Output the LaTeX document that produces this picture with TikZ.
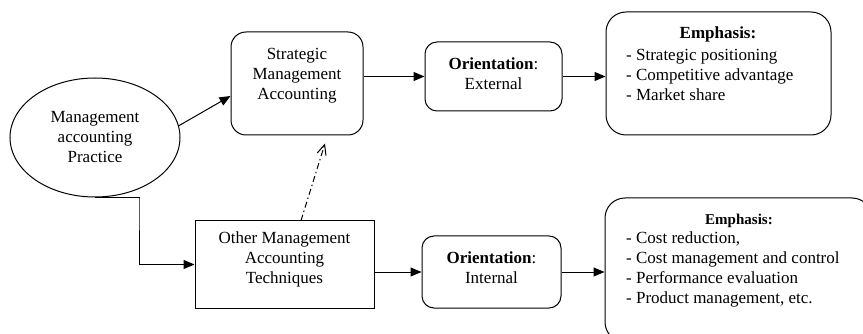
\documentclass[tikz,border=0pt]{standalone}
\usepackage{fontspec}
\setmainfont{Liberation Serif}
\usetikzlibrary{arrows.meta,calc,shapes.geometric}
\begin{document}
\begin{tikzpicture}[x=1pt,y=-1pt,
  every node/.style={font=\fontsize{17}{20}\selectfont},
  box/.style={draw,line width=1pt,inner sep=0pt},
  rbox/.style={box,rounded corners=#1},
  txt/.style={align=center,inner sep=0pt},
  lst/.style={align=left,inner sep=0pt,anchor=west},
  arr/.style={line width=1pt,-{Triangle[length=11pt,width=9pt]}},
  dasharr/.style={line width=1pt,dash pattern=on 6pt off 3pt on 1.5pt off 3pt,-{Straight Barb[length=10pt,width=9pt]}}
]
\clip (0,0) rectangle (863,334);
\fill[white] (0,0) rectangle (863,334);
% ellipse
\node[draw,line width=1pt,ellipse,minimum width=170,minimum height=119,inner sep=0pt,align=center] (ell) at (95,137.5) {Management\\accounting\\Practice};
% strategic management accounting
\node[rbox=15pt,minimum width=132,minimum height=103] (sma) at (297,83.5) {};
\node[txt] (smat) at (297,76) {Strategic\\Management\\Accounting};
% other techniques
\node[box,minimum width=179,minimum height=87] (oth) at (284.5,264.5) {};
\node[txt] (otht) at (284.5,259.5) {Other Management\\Accounting\\Techniques};
% orientations
\node[rbox=12pt,minimum width=137,minimum height=69] (oe) at (493.5,76.5) {};
\node[txt] (oet) at (493.5,73.5) {\textbf{Orientation}:\\External};
\node[rbox=12pt,minimum width=139,minimum height=72] (oi) at (491.5,272) {};
\node[txt] (oit) at (491.5,267.5) {\textbf{Orientation}:\\Internal};
% emphasis top
\node[rbox=20pt,minimum width=225,minimum height=123] (emp1) at (718.5,73.5) {};
\node[txt] (emp1h) at (718,34) {\textbf{Emphasis:}};
\node[lst] (emp1l) at (626,75) {- Strategic positioning\\- Competitive advantage\\- Market share};
% emphasis bottom
\node[rbox=20pt,minimum width=267,minimum height=144] (emp2) at (738.5,270) {};
\node[txt,font=\fontsize{15}{18}\selectfont] (emp2h) at (739,220.5) {\textbf{Emphasis:}};
\node[lst] (emp2l) at (626,269) {- Cost reduction,\\- Cost management and control\\- Performance evaluation\\- Product management, etc.};
% connectors
\coordinate (elb) at (139,197);
\draw[arr] (ell.8) -- ($(sma.west)+(0,12.5)$);
\draw[arr] (ell.south) -| (elb) |- (oth.west);
\draw[dasharr] ($(oth.north)+(16.5,0)$) -- ($(sma.south)+(28,8)$);
\draw[arr] (oe.west -| sma.east) -- (oe.west);
\draw[arr] (oe.east) -- (oe.east -| emp1.west);
\draw[arr] (oi.west -| oth.east) -- (oi.west);
\draw[arr] (oi.east) -- (oi.east -| emp2.west);
\end{tikzpicture}
\end{document}
